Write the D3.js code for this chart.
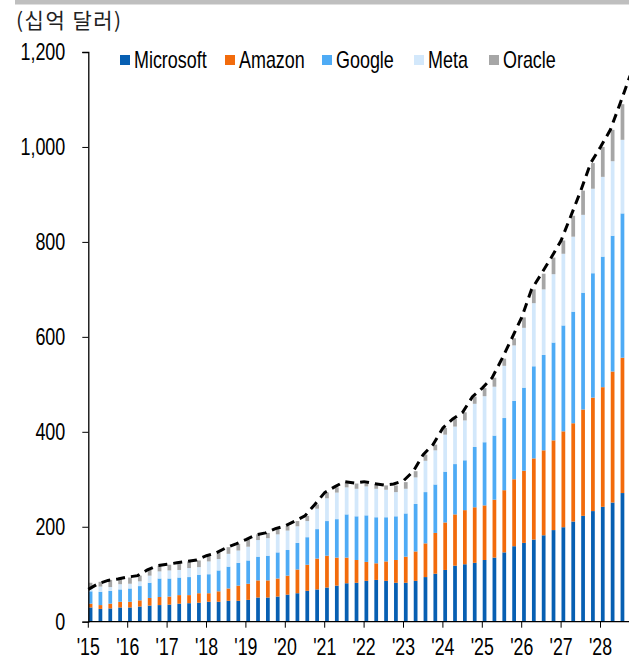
<!DOCTYPE html>
<html><head><meta charset="utf-8">
<script src="https://cdn.jsdelivr.net/npm/d3@7"></script>
<style>
html,body{margin:0;padding:0;background:#fff;}
svg{display:block;}
text{font-family:"Liberation Sans",Arial,sans-serif;}
</style></head>
<body>
<svg id="chart" width="629" height="663"></svg>
<script>
const years = ["'15","'16","'17","'18","'19","'20","'21","'22","'23","'24","'25","'26","'27","'28"];
const quarterNames = ["Q1","Q2","Q3","Q4"];
const categories = years.flatMap(y => quarterNames.map(q => y + q));
const seriesNames = ["Microsoft","Amazon","Google","Meta","Oracle"];
const seriesColors = ["#075fb2","#f26b0c","#4eabf5","#d3e8fb","#a6a6a6"];
const yTicks = [0,200,400,600,800,1000,1200];

const microsoft = [30,27,28,30,30,32,34,35,36,38,39,40,42,42,44,44,46,51,51,53,57,60,65,68,72,76,81,82,86,88,86,82,82,86,94,101,109,118,121,124,130,135,146,159,166,173,182,193,199,211,223,233,242,251,271,285];
const amazon    = [8,8,10,12,12,13,16,17,17,18,17,20,18,22,26,32,34,36,36,38,40,50,55,65,67,59,54,48,40,35,41,48,55,62,71,86,100,108,114,117,115,122,131,141,152,171,179,189,202,207,224,239,252,276,285,300];
const google    = [26,28,27,26,28,30,32,39,38,37,38,39,40,44,46,48,49,50,52,55,54,56,58,62,73,81,91,92,98,97,93,92,91,100,108,102,107,106,105,127,133,135,152,165,175,194,201,206,223,235,246,262,275,286,304,320];
const meta      = [7,11,8,11,10,10,15,15,17,16,19,16,27,24,27,26,29,35,37,38,41,35,34,43,48,56,57,58,61,60,58,51,52,56,66,72,78,79,84,91,97,103,110,117,126,133,138,144,151,158,164,178,168,157,155,165];
const oracle    = [11,10,15,12,13,12,12,12,12,14,14,14,12,13,14,14,15,12,11,12,10,11,11,9,12,11,10,11,10,10,9,14,14,13,13,12,14,16,17,15,17,19,15,15,22,29,33,35,28,44,51,54,63,66,75,80];
const totalLine = [68,80,87,90,94,97,109,118,121,124,127,130,139,145,156,164,173,183,187,196,202,212,223,247,272,284,295,292,295,291,288,290,297,317,352,373,408,427,441,474,492,514,554,597,641,700,733,767,803,855,908,966,1000,1036,1092,1150];

const svg = d3.select("#chart");
const W = 629, H = 663;
const plotLeft = 88.3, step = 9.85, plotBottom = 621.7, plotTop = 52;

const x = d3.scaleBand().domain(categories).range([plotLeft, plotLeft + step * categories.length]).paddingInner(0).paddingOuter(0);
const y = d3.scaleLinear().domain([0,1200]).range([plotBottom, plotTop]);

// horizontally condense a text element around its anchor point
function condense(sel, k) {
  sel.each(function() {
    const t = d3.select(this);
    const x0 = +t.attr("x") || 0, y0 = +t.attr("y") || 0;
    t.attr("transform", `translate(${x0},${y0}) scale(${k},1) translate(${-x0},${-y0})`);
  });
}

// top gray rule
svg.append("rect").attr("x",15).attr("y",0).attr("width",W-15).attr("height",4.5).attr("fill","#bfbfbf");

// unit title
svg.append("text").attr("x",16).attr("y",28)
  .style("font-family","'Noto Sans CJK KR',sans-serif").style("font-size","21px")
  .style("letter-spacing","1.5px").attr("fill","#222")
  .text("(십억 달러)");

// stacked data
const table = categories.map((c,i)=>({cat:c, Microsoft:microsoft[i], Amazon:amazon[i], Google:google[i], Meta:meta[i], Oracle:oracle[i]}));
const stack = d3.stack().keys(seriesNames)(table);

const bw = x.bandwidth();
const g = svg.append("g");
stack.forEach((layer, li) => {
  g.selectAll(null).data(layer).enter().append("rect")
    .attr("x", d => x(d.data.cat) + bw*0.04)
    .attr("width", bw*0.38)
    .attr("y", d => y(d[1]))
    .attr("height", d => Math.max(0, y(d[0]) - y(d[1])))
    .attr("fill", seriesColors[li]);
});

// dashed total line
const line = d3.line().x((d,i) => x(categories[i])).y(d => y(d));
svg.append("path").datum(totalLine).attr("d", line)
  .attr("fill","none").attr("stroke","#000").attr("stroke-width",3)
  .attr("stroke-dasharray","9,6");

// y axis
const yAxis = d3.axisLeft(y).tickValues(yTicks).tickSize(6).tickPadding(17).tickFormat(d3.format(","));
const ya = svg.append("g").attr("transform",`translate(${plotLeft},0)`).call(yAxis);
ya.select(".domain").attr("stroke","#000").attr("stroke-width",1.3);
ya.selectAll(".tick line").attr("stroke","#000");
ya.selectAll(".tick text").style("font-size","23px").attr("fill","#000").call(condense, 0.78);

// x axis
const xAxis = d3.axisBottom(x).tickValues(categories.filter((c,i)=>i%4===0)).tickSize(6).tickPadding(10)
  .tickFormat(c => c.slice(0,3));
const xa = svg.append("g").attr("transform",`translate(0,${plotBottom})`).call(xAxis);
xa.select(".domain").attr("d", `M${plotLeft},0H${W}`).attr("stroke","#000").attr("stroke-width",1.3);
xa.selectAll(".tick").attr("transform", c => `translate(${x(c)},0)`);
xa.selectAll(".tick line").attr("stroke","#000");
xa.selectAll(".tick text").style("font-size","24px").attr("fill","#000").call(condense, 0.74);

// legend
const legendX = [120,225,322,414,489];
const lg = svg.append("g");
seriesNames.forEach((n,i) => {
  lg.append("rect").attr("x",legendX[i]).attr("y",55).attr("width",10).attr("height",10).attr("fill",seriesColors[i]);
  lg.append("text").attr("x",legendX[i]+14).attr("y",68).style("font-size","23px").attr("fill","#000").text(n)
    .call(condense, 0.78);
});
</script>
</body></html>
